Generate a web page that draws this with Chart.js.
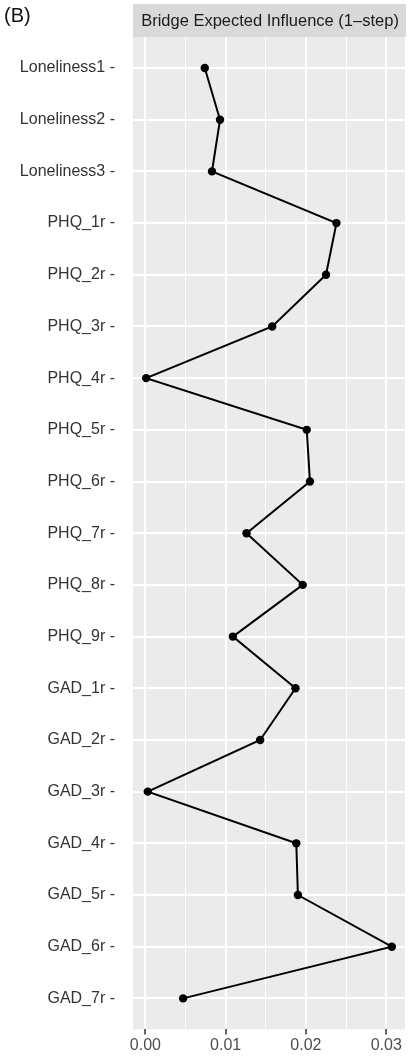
<!DOCTYPE html>
<html>
<head>
<meta charset="utf-8" />
<title>Bridge Expected Influence</title>
<script src="https://cdn.jsdelivr.net/npm/chart.js@4.4.1/dist/chart.umd.min.js"></script>
<style>
  html, body { margin: 0; padding: 0; background: #ffffff; }
  canvas { display: block; }
</style>
</head>
<body>
<canvas id="myChart" width="411" height="1057"></canvas>
<script>
// nodes, top to bottom
const nodes = ['Loneliness1', 'Loneliness2', 'Loneliness3',
  'PHQ_1r', 'PHQ_2r', 'PHQ_3r', 'PHQ_4r', 'PHQ_5r', 'PHQ_6r', 'PHQ_7r', 'PHQ_8r', 'PHQ_9r',
  'GAD_1r', 'GAD_2r', 'GAD_3r', 'GAD_4r', 'GAD_5r', 'GAD_6r', 'GAD_7r'];
// bridge expected influence (1-step)
const bridgeEI = [0.0074, 0.0093, 0.0083,
  0.0238, 0.0225, 0.0158, 0.0001, 0.0201, 0.0205, 0.0126, 0.0196, 0.0109,
  0.0187, 0.0143, 0.0003, 0.0188, 0.0190, 0.0307, 0.0047];
const xTicks = [0, 0.005, 0.01, 0.015, 0.02, 0.025, 0.03];
const xMajor = [0, 0.01, 0.02, 0.03];
const stripTitle = 'Bridge Expected Influence (1\u2013step)';
const panelLabel = '(B)';

const FONT = '"Liberation Sans", Arial, Helvetica, sans-serif';
const isMajor = v => xMajor.some(m => Math.abs(m - v) < 1e-9);

const panelPlugin = {
  id: 'panel',
  beforeDraw(chart) {
    const a = chart.chartArea, ctx = chart.ctx;
    ctx.save();
    ctx.fillStyle = '#EBEBEB';
    ctx.fillRect(a.left, a.top, a.right - a.left, a.bottom - a.top);
    // facet strip
    ctx.fillStyle = '#D9D9D9';
    ctx.fillRect(a.left, 4, a.right - a.left + 1, a.top - 4);
    ctx.fillStyle = '#1A1A1A';
    ctx.font = '16.5px ' + FONT;
    ctx.textAlign = 'center';
    ctx.textBaseline = 'middle';
    ctx.fillText(stripTitle, (a.left + a.right) / 2 + 1, (a.top + 4) / 2 + 1);
    // panel tag
    ctx.textAlign = 'left';
    ctx.textBaseline = 'alphabetic';
    ctx.font = '20px ' + FONT;
    ctx.fillStyle = '#111111';
    ctx.fillText(panelLabel, 4, 22);
    ctx.restore();
  }
};

const ctx = document.getElementById('myChart').getContext('2d');
const myChart = new Chart(ctx, {
  type: 'scatter',
  data: {
    datasets: [{
      label: 'Bridge EI',
      data: bridgeEI.map((v, i) => ({ x: v, y: i })),
      showLine: true,
      borderColor: '#000000',
      backgroundColor: '#000000',
      borderWidth: 2,
      pointRadius: 4.2,
      pointBorderWidth: 0,
      clip: false
    }]
  },
  options: {
    responsive: false,
    animation: false,
    devicePixelRatio: 1,
    layout: { padding: { top: 37, right: 6, left: 0, bottom: 0 } },
    plugins: { legend: { display: false }, tooltip: { enabled: false } },
    scales: {
      x: {
        type: 'linear',
        min: -0.00154,
        max: 0.03234,
        afterBuildTicks: s => { s.ticks = xTicks.map(v => ({ value: v })); },
        afterFit: s => { s.height = 26; },
        border: { display: false },
        grid: {
          color: '#FFFFFF',
          lineWidth: c => (c.tick && isMajor(c.tick.value)) ? 2 : 1,
          tickColor: c => (c.tick && isMajor(c.tick.value)) ? '#333333' : 'rgba(0,0,0,0)',
          tickLength: 5,
          tickWidth: 1.5
        },
        ticks: {
          color: '#4D4D4D',
          font: { family: FONT, size: 16 },
          padding: 2,
          maxRotation: 0,
          autoSkip: false,
          callback: v => isMajor(v) ? v.toFixed(2) : ''
        }
      },
      y: {
        type: 'linear',
        reverse: true,
        min: -0.6,
        max: nodes.length - 1 + 0.6,
        afterBuildTicks: s => { s.ticks = nodes.map((n, i) => ({ value: i })); },
        afterFit: s => { s.width = 133; },
        border: { display: false },
        grid: { color: '#FFFFFF', lineWidth: 2, tickLength: 0 },
        ticks: {
          color: '#333333',
          font: { family: FONT, size: 16 },
          padding: 18,
          autoSkip: false,
          callback: v => (nodes[v] || '') + ' -'
        }
      }
    }
  },
  plugins: [panelPlugin]
});
</script>
</body>
</html>
